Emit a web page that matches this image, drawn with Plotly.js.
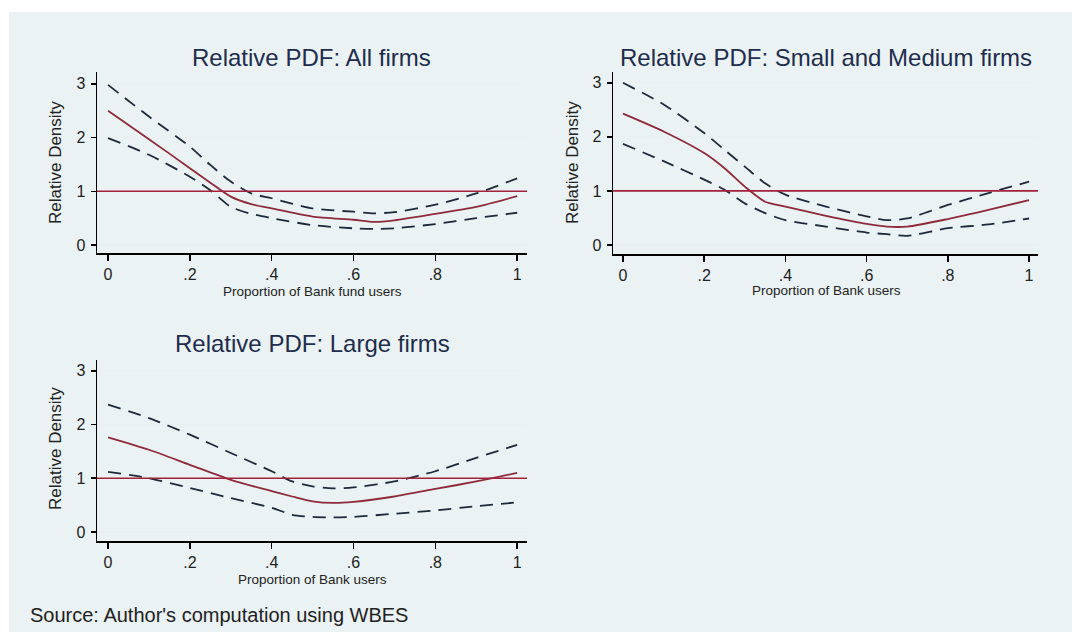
<!DOCTYPE html>
<html>
<head>
<meta charset="utf-8">
<script src="https://cdn.plot.ly/plotly-3.0.1.min.js"></script>
<style>html,body{margin:0;padding:0;background:#fff;}#chart{width:1072px;height:632px;}</style>
</head>
<body>
<div id="chart"></div>
<script>
// ---- Data ----
const panelTitles = ["Relative PDF: All firms", "Relative PDF: Small and Medium firms", "Relative PDF: Large firms"];
const xTitles = ["Proportion of Bank fund users", "Proportion of Bank users", "Proportion of Bank users"];
const yTitle = "Relative Density";
const sourceNote = "Source: Author's computation using WBES";
const xTickVals = [0, 0.2, 0.4, 0.6, 0.8, 1];
const xTickText = ["0", ".2", ".4", ".6", ".8", "1"];
const yTickVals = [0, 1, 2, 3];
const yTickText = ["0", "1", "2", "3"];
const refLevel = 1;

// Panel 1: All firms
const xAll = [0, 0.1, 0.2, 0.25, 0.3, 0.35, 0.4, 0.5, 0.6, 0.65, 0.7, 0.8, 0.9, 1];
const allMain = [2.50, 1.97, 1.43, 1.16, 0.90, 0.76, 0.68, 0.53, 0.47, 0.43, 0.46, 0.58, 0.71, 0.91];
const allUpper = [2.98, 2.39, 1.83, 1.49, 1.18, 0.96, 0.87, 0.68, 0.62, 0.59, 0.61, 0.75, 0.96, 1.24];
const allLower = [1.99, 1.68, 1.27, 1.02, 0.71, 0.58, 0.50, 0.37, 0.31, 0.30, 0.31, 0.39, 0.50, 0.60];

// Panel 2: Small and Medium firms
const xSme = [0, 0.1, 0.2, 0.25, 0.3, 0.35, 0.4, 0.5, 0.6, 0.65, 0.7, 0.8, 0.9, 1];
const smeMain = [2.43, 2.10, 1.70, 1.42, 1.08, 0.80, 0.71, 0.54, 0.39, 0.34, 0.34, 0.48, 0.65, 0.83];
const smeUpper = [3.00, 2.60, 2.07, 1.76, 1.45, 1.14, 0.93, 0.71, 0.53, 0.46, 0.49, 0.74, 0.96, 1.17];
const smeLower = [1.87, 1.55, 1.21, 1.02, 0.77, 0.59, 0.46, 0.34, 0.23, 0.20, 0.17, 0.31, 0.38, 0.49];

// Panel 3: Large firms
const xLarge = [0, 0.1, 0.2, 0.3, 0.4, 0.45, 0.5, 0.55, 0.6, 0.7, 0.8, 0.9, 1];
const largeMain = [1.76, 1.53, 1.25, 0.97, 0.76, 0.66, 0.57, 0.54, 0.56, 0.66, 0.80, 0.94, 1.10];
const largeUpper = [2.37, 2.12, 1.81, 1.47, 1.13, 0.94, 0.85, 0.81, 0.83, 0.94, 1.13, 1.38, 1.62];
const largeLower = [1.12, 1.00, 0.82, 0.63, 0.45, 0.32, 0.28, 0.27, 0.28, 0.34, 0.40, 0.48, 0.55];

// ---- Styling / layout ----
const W = 1072, H = 632;
const px = v => v / W;
const py = v => 1 - v / H;
const FONT = "Arial, 'Liberation Sans', sans-serif";
const mainColor = "#8e2a3c";
const ciColor = "#1e2a3a";
const refColor = "#a3213b";
const titleColor = "#1f2d4d";

const panels = [
  {x: xAll, m: allMain, u: allUpper, l: allLower, xa: "x", ya: "y"},
  {x: xSme, m: smeMain, u: smeUpper, l: smeLower, xa: "x2", ya: "y2"},
  {x: xLarge, m: largeMain, u: largeUpper, l: largeLower, xa: "x3", ya: "y3"}
];

const traces = [];
panels.forEach(p => {
  [[p.u, "dash"], [p.l, "dash"], [p.m, "solid"]].forEach(([ys, kind]) => {
    traces.push({
      type: "scatter", mode: "lines", x: p.x, y: ys, xaxis: p.xa, yaxis: p.ya,
      showlegend: false, hoverinfo: "skip",
      line: kind === "dash"
        ? {color: ciColor, width: 1.8, dash: "13px,8px", shape: "spline", smoothing: 0.7}
        : {color: mainColor, width: 1.8, shape: "spline", smoothing: 0.7}
    });
  });
});

function xaxisDef(domain, range, anchor) {
  return {domain, range, anchor, tickvals: xTickVals, ticktext: xTickText,
    ticks: "outside", ticklen: 6, tickwidth: 1.5, tickcolor: "#000",
    showline: true, linecolor: "#000", linewidth: 1.5, showgrid: false, zeroline: false,
    tickfont: {family: FONT, size: 16, color: "#222"}, ticklabelstandoff: 0, fixedrange: true};
}
function yaxisDef(domain, range, anchor) {
  return {domain, range, anchor, tickvals: yTickVals, ticktext: yTickText,
    ticks: "outside", ticklen: 5, tickwidth: 1.5, tickcolor: "#000",
    showline: true, linecolor: "#000", linewidth: 1.5, showgrid: true, gridcolor: "#eaf0f1", gridwidth: 1.2,
    zeroline: false, tickfont: {family: FONT, size: 16, color: "#222"}, ticklabelstandoff: 2, fixedrange: true};
}

const layout = {
  width: W, height: H, margin: {l: 0, r: 0, t: 0, b: 0},
  paper_bgcolor: "#ffffff", plot_bgcolor: "#ffffff",
  xaxis: xaxisDef([px(97), px(527)], [-0.027, 1.024], "y"),
  yaxis: yaxisDef([py(253), py(72)], [-0.149, 3.22], "x"),
  xaxis2: xaxisDef([px(613), px(1038)], [-0.0246, 1.022], "y2"),
  yaxis2: yaxisDef([py(254), py(72)], [-0.167, 3.20], "x2"),
  xaxis3: xaxisDef([px(97), px(527)], [-0.027, 1.024], "y3"),
  yaxis3: yaxisDef([py(541), py(360)], [-0.168, 3.20], "x3"),
  shapes: [
    {type: "rect", xref: "paper", yref: "paper", x0: px(9), x1: 1, y0: 0, y1: py(12),
     fillcolor: "#eaf2f3", line: {width: 0}, layer: "below"},
    ...panels.map(p => ({type: "line", xref: p.xa + " domain", yref: p.ya, x0: 0, x1: 1,
      y0: refLevel, y1: refLevel, line: {color: refColor, width: 1.6}}))
  ],
  annotations: [
    {text: panelTitles[0], x: px(311), y: py(57)},
    {text: panelTitles[1], x: px(826), y: py(57)},
    {text: panelTitles[2], x: px(312), y: py(343)}
  ].map(a => Object.assign(a, {xref: "paper", yref: "paper", showarrow: false,
      xanchor: "center", yanchor: "middle", font: {family: FONT, size: 24, color: titleColor}}))
  .concat([
    {text: yTitle, x: px(55), y: py(163)},
    {text: yTitle, x: px(572), y: py(163)},
    {text: yTitle, x: px(55), y: py(449)}
  ].map(a => Object.assign(a, {xref: "paper", yref: "paper", showarrow: false, textangle: -90,
      xanchor: "center", yanchor: "middle", font: {family: FONT, size: 17, color: "#222"}})))
  .concat([
    {text: xTitles[0], x: px(312), y: py(291)},
    {text: xTitles[1], x: px(826), y: py(290)},
    {text: xTitles[2], x: px(312), y: py(579)}
  ].map(a => Object.assign(a, {xref: "paper", yref: "paper", showarrow: false,
      xanchor: "center", yanchor: "middle", font: {family: FONT, size: 13.5, color: "#222"}})))
  .concat([
    {text: sourceNote, x: px(28), y: py(615), xref: "paper", yref: "paper", showarrow: false,
     xanchor: "left", yanchor: "middle", font: {family: FONT, size: 20, color: "#222"}}
  ])
};

Plotly.newPlot("chart", traces, layout, {displayModeBar: false, staticPlot: true});
</script>
</body>
</html>
